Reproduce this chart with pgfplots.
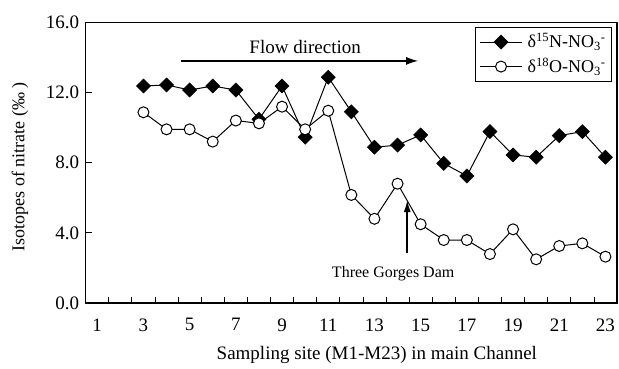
\documentclass[border=0pt]{standalone}
\usepackage{fontspec}
\setmainfont{Liberation Serif}
\usepackage{pgfplots}
\pgfplotsset{compat=1.18}
\usetikzlibrary{arrows.meta}
\begin{document}
\fontsize{19}{22}\selectfont
\begin{tikzpicture}
\path[use as bounding box] (-85.7pt,-65pt) rectangle (533.3pt,303pt);
\begin{axis}[
  at={(0pt,0pt)}, anchor=south west,
  scale only axis, width=531.3pt, height=280.7pt,
  xmin=0.5, xmax=23.5, ymin=0, ymax=16,
  xtick={1,3,...,23},
  major x tick style={draw=none},
  minor xtick={1.5,2.5,...,22.5},
  ytick={0,4,8,12,16},
  xtick pos=bottom, ytick pos=left,
  tick align=inside,
  major tick length=6pt, minor tick length=6pt,
  tick style={black, line width=0.8pt},
  axis line style={black, line width=1.3pt},
  /pgf/number format/assume math mode=true,
  yticklabel style={/pgf/number format/.cd, fixed, fixed zerofill, precision=1},
  xticklabel style={yshift=-9pt},
  ticklabel style={font=\fontsize{19}{22}\selectfont},
  xlabel={Sampling site (M1-M23) in main Channel},
  xlabel style={at={(axis description cs:0.548,-0.185)}, anchor=center, font=\fontsize{19}{22}\selectfont},
  ylabel={Isotopes of nitrate (‰ )},
  ylabel style={at={(axis description cs:-0.1237,0.485)}, anchor=center, font=\fontsize{18}{22}\selectfont},
  clip=false,
  legend style={at={(rel axis cs:0.9906,0.9833)}, anchor=north east, draw=black, line width=0.8pt,
    font=\fontsize{18}{21}\selectfont, row sep=3pt, inner xsep=4pt, inner ysep=4pt,
    /tikz/every odd column/.append style={column sep=3pt}},
  legend cell align=left,
  legend image code/.code={\draw[mark repeat=2, mark phase=2] plot coordinates {(0pt,0pt) (21pt,0pt) (42pt,0pt)};},
]
\addplot[black, line width=1pt, mark=square*, mark size=5pt, mark options={rotate=45, fill=black, line width=0.5pt}]
coordinates {(3,12.37) (4,12.43) (5,12.14) (6,12.37) (7,12.14) (8,10.47) (9,12.37) (10,9.45) (11,12.87) (12,10.90) (13,8.88) (14,9.00) (15,9.58) (16,7.96) (17,7.24) (18,9.77) (19,8.44) (20,8.31) (21,9.54) (22,9.77) (23,8.31)};
\addlegendentry{δ\textsuperscript{15}N-NO\textsubscript{3}\textsuperscript{-}}
\addplot[black, line width=1pt, mark=*, mark size=5.5pt, mark options={fill=white, line width=1pt}]
coordinates {(3,10.87) (4,9.90) (5,9.90) (6,9.20) (7,10.40) (8,10.24) (9,11.19) (10,9.90) (11,10.96) (12,6.16) (13,4.80) (14,6.80) (15,4.49) (16,3.59) (17,3.59) (18,2.79) (19,4.20) (20,2.49) (21,3.25) (22,3.40) (23,2.64)};
\addlegendentry{δ\textsuperscript{18}O-NO\textsubscript{3}\textsuperscript{-}}
\draw[-{Latex[length=12pt,width=8pt]}, line width=1.2pt] (axis cs:4.61,13.8) -- (axis cs:14.89,13.8);
\node[font=\fontsize{19}{22}\selectfont] at (axis cs:10.0,14.61) {Flow direction};
\draw[-{Latex[length=12pt,width=7pt]}, line width=1.6pt] (axis cs:14.42,2.85) -- (axis cs:14.42,5.87);
\node[font=\fontsize{16}{19}\selectfont] at (axis cs:13.81,1.65) {Three Gorges Dam};
\end{axis}
\end{tikzpicture}
\end{document}
